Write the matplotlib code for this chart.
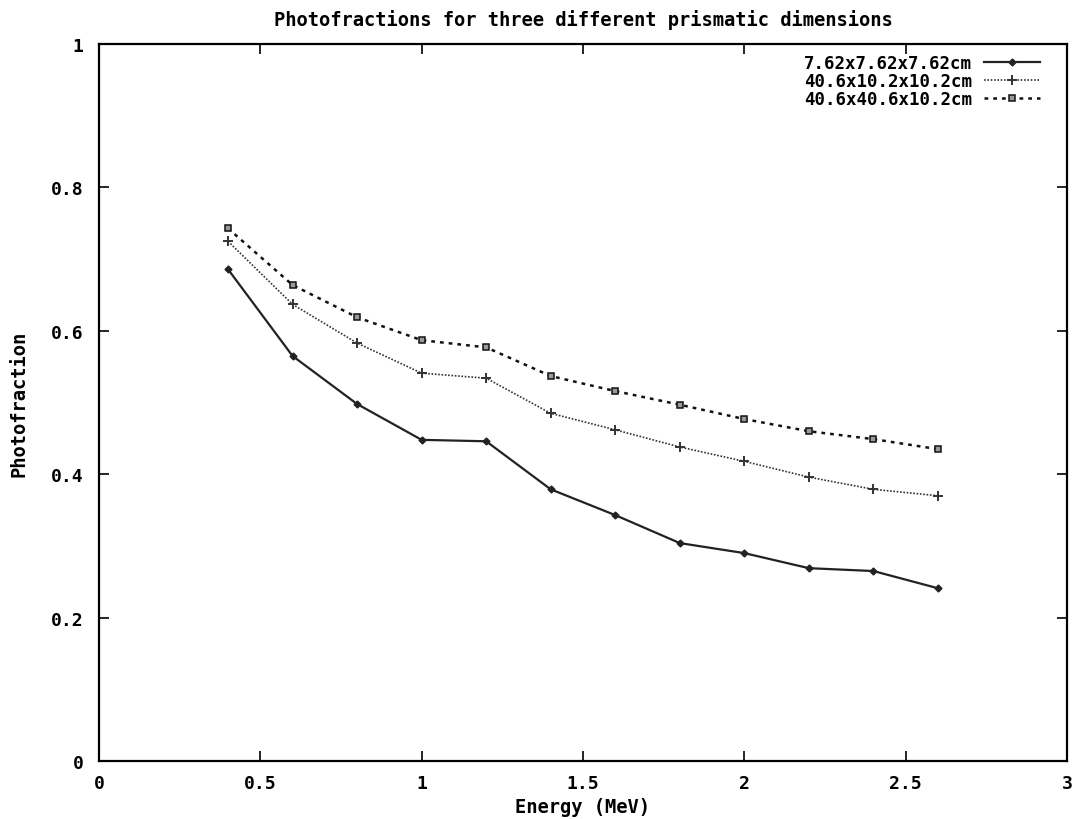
import matplotlib
matplotlib.use("Agg")
import matplotlib.pyplot as plt

energy = [0.4, 0.6, 0.8, 1.0, 1.2, 1.4, 1.6, 1.8, 2.0, 2.2, 2.4, 2.6]
pf_small = [0.686, 0.565, 0.498, 0.448, 0.446, 0.379, 0.343, 0.304, 0.290, 0.269, 0.265, 0.241]
pf_mid = [0.725, 0.637, 0.583, 0.541, 0.534, 0.485, 0.462, 0.438, 0.418, 0.396, 0.379, 0.370]
pf_big = [0.743, 0.664, 0.619, 0.587, 0.577, 0.537, 0.516, 0.497, 0.477, 0.460, 0.449, 0.435]
labels = ["7.62x7.62x7.62cm", "40.6x10.2x10.2cm", "40.6x40.6x10.2cm"]

plt.rcParams['font.family'] = ['DejaVu Sans Mono']
plt.rcParams['font.weight'] = 'bold'
plt.rcParams['axes.titleweight'] = 'bold'
plt.rcParams['axes.labelweight'] = 'bold'

fig = plt.figure(figsize=(10.75, 8.2), dpi=100)
ax = fig.add_axes([0.092, 0.0707, 0.9006, 0.8743])

ax.plot(energy, pf_small, color="#222222", lw=1.6, ls="-", marker="D", ms=3.5, label=labels[0])
ax.plot(energy, pf_mid, color="#333333", lw=1.2, ls=(0, (1, 1)), marker="+", ms=7, mew=1.4, label=labels[1])
ax.plot(energy, pf_big, color="#111111", lw=1.8, ls=(0, (1.5, 2)), marker="s", ms=5, mfc="#999999", mew=1.1, label=labels[2])

ax.set_xlim(0, 3)
ax.set_ylim(0, 1)
ax.set_xticks([0, 0.5, 1, 1.5, 2, 2.5, 3])
ax.set_xticklabels(["0", "0.5", "1", "1.5", "2", "2.5", "3"])
ax.set_yticks([0, 0.2, 0.4, 0.6, 0.8, 1])
ax.set_yticklabels(["0", "0.2", "0.4", "0.6", "0.8", "1"])
ax.tick_params(axis="x", direction="in", top=True, length=7, width=1.2, labelsize=13, pad=9)
ax.tick_params(axis="y", direction="in", right=True, length=7, width=1.2, labelsize=13, pad=11)
for s in ax.spines.values():
    s.set_linewidth(1.6)

ax.set_title("Photofractions for three different prismatic dimensions", fontsize=13.5, pad=14)
ax.set_xlabel("Energy (MeV)", fontsize=13.5, labelpad=4)
ax.set_ylabel("Photofraction", fontsize=13.5, labelpad=16)

ax.legend(loc="upper right", frameon=False, markerfirst=False, fontsize=12.5,
          handlelength=3.2, handletextpad=0.7, labelspacing=0.0,
          borderaxespad=0, borderpad=0,
          bbox_to_anchor=(1040 / 1075, 1 - 55 / 820), bbox_transform=fig.transFigure)

fig.savefig("out.png", dpi=100)
